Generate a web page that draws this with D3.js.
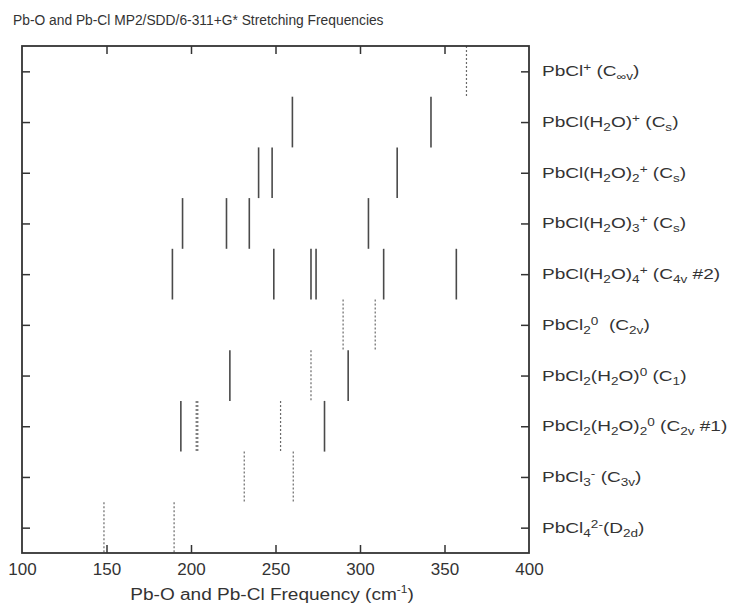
<!DOCTYPE html>
<html>
<head>
<meta charset="utf-8">
<script src="https://cdn.jsdelivr.net/npm/d3@7"></script>
<style>
  body { margin: 0; background: #fff; }
  svg { display: block; }
  text { font-family: "Liberation Sans", Arial, sans-serif; fill: #333; white-space: pre; }
</style>
</head>
<body>
<script>
// ---- Data ----
const categories = [
  [["PbCl",""],["+","sup"],[" (C",""],["\u221Ev","sub"],[")",""]],
  [["PbCl(H",""],["2","sub"],["O)",""],["+","sup"],[" (C",""],["s","sub"],[")",""]],
  [["PbCl(H",""],["2","sub"],["O)",""],["2","sub"],["+","sup"],[" (C",""],["s","sub"],[")",""]],
  [["PbCl(H",""],["2","sub"],["O)",""],["3","sub"],["+","sup"],[" (C",""],["s","sub"],[")",""]],
  [["PbCl(H",""],["2","sub"],["O)",""],["4","sub"],["+","sup"],[" (C",""],["4v","sub"],[" #2)",""]],
  [["PbCl",""],["2","sub"],["0","sup"],["  (C",""],["2v","sub"],[")",""]],
  [["PbCl",""],["2","sub"],["(H",""],["2","sub"],["O)",""],["0","sup"],[" (C",""],["1","sub"],[")",""]],
  [["PbCl",""],["2","sub"],["(H",""],["2","sub"],["O)",""],["2","sub"],["0","sup"],[" (C",""],["2v","sub"],[" #1)",""]],
  [["PbCl",""],["3","sub"],["-","sup"],[" (C",""],["3v","sub"],[")",""]],
  [["PbCl",""],["4","sub"],["2-","sup"],["(D",""],["2d","sub"],[")",""]]
];
// solid lines (frequencies, cm^-1) per row
const solidFreqs = [
  [],
  [260, 342],
  [240, 248, 322],
  [195, 221, 234.5, 305],
  [189, 249, 271, 274, 314, 357],
  [],
  [223, 293],
  [194, 279],
  [],
  []
];
// dashed lines per row
const dashedFreqs = [
  [363],
  [],
  [],
  [],
  [],
  [290, 309],
  [271],
  [203.1, 204.0, 253],
  [231.5, 260.5],
  [148.5, 190]
];
const xTicks = [100, 150, 200, 250, 300, 350, 400];
const titleText = "Pb-O and Pb-Cl MP2/SDD/6-311+G* Stretching Frequencies";

// ---- Layout ----
const W = 734, H = 608;
const L = 22, R = 529, T = 46, B = 553;

const svg = d3.select("body").append("svg").attr("width", W).attr("height", H);

const x = d3.scaleLinear().domain([100, 400]).range([L, R]);
const y = d3.scaleLinear().domain([-0.5, categories.length - 0.5]).range([T, B]);
const rows = d3.range(categories.length);

// Title
svg.append("text").attr("x", 13).attr("y", 25).attr("font-size", 13.8).text(titleText);

// Lines
const segs = [];
rows.forEach(i => {
  solidFreqs[i].forEach(f => segs.push({row: i, f, dashed: false}));
  dashedFreqs[i].forEach(f => segs.push({row: i, f, dashed: true}));
});
svg.append("g").selectAll("line").data(segs).join("line")
  .attr("x1", d => x(d.f))
  .attr("x2", d => x(d.f))
  .attr("y1", d => y(d.row - 0.5))
  .attr("y2", d => y(d.row + 0.5))
  .attr("stroke", d => d.dashed ? "#6a6a6a" : "#4a4a4a")
  .attr("stroke-width", d => d.dashed ? 1.2 : 1.6)
  .attr("stroke-dasharray", d => d.dashed ? "2,2" : null);

// Axes (inward ticks)
const tickLen = 8;
const gBottom = svg.append("g").attr("transform", `translate(0,${B})`)
  .call(d3.axisBottom(x).tickValues(xTicks).tickSizeInner(-tickLen).tickSizeOuter(0).tickPadding(10));
gBottom.selectAll("text").attr("font-size", 17).attr("font-family", "Liberation Sans, Arial, sans-serif").attr("fill", "#333");
const gTop = svg.append("g").attr("transform", `translate(0,${T})`)
  .call(d3.axisTop(x).tickValues(xTicks).tickSizeInner(-tickLen).tickSizeOuter(0).tickFormat(""));
const gLeft = svg.append("g").attr("transform", `translate(${L},0)`)
  .call(d3.axisLeft(y).tickValues(rows).tickSizeInner(-tickLen).tickSizeOuter(0).tickFormat(""));
const gRight = svg.append("g").attr("transform", `translate(${R},0)`)
  .call(d3.axisRight(y).tickValues(rows).tickSizeInner(-tickLen).tickSizeOuter(2).tickFormat(""));
[gBottom, gTop, gLeft, gRight].forEach(g => {
  g.select(".domain").remove();
  g.selectAll(".tick line").attr("stroke", "#333").attr("stroke-width", 1.5);
});
[gBottom, gTop].forEach(g => {
  g.selectAll(".tick").filter(d => d === 100 || d === 400).select("line").remove();
});

// Frame
svg.append("rect").attr("x", L).attr("y", T).attr("width", R - L).attr("height", B - T)
  .attr("fill", "none").attr("stroke", "#333").attr("stroke-width", 1.8);

// Right category labels (horizontally stretched like the reference)
const lab = svg.append("g");
rows.forEach(i => {
  const t = lab.append("text")
    .attr("transform", `translate(${R + 13},${y(i) + 5}) scale(1.36,1)`)
    .attr("font-size", 14);
  let cur = 0;
  categories[i].forEach(([s, k]) => {
    const target = k === "sub" ? 4 : k === "sup" ? -5 : 0;
    t.append("tspan").attr("dy", target - cur).attr("font-size", k ? 10 : 14).text(s);
    cur = target;
  });
});

// X axis title
const xt = svg.append("text")
  .attr("transform", `translate(272,600) scale(1.19,1)`)
  .attr("text-anchor", "middle").attr("font-size", 16);
xt.append("tspan").text("Pb-O and Pb-Cl Frequency (cm");
xt.append("tspan").attr("dy", -7).attr("font-size", 10).text("-1");
xt.append("tspan").attr("dy", 7).text(")");
</script>
</body>
</html>
